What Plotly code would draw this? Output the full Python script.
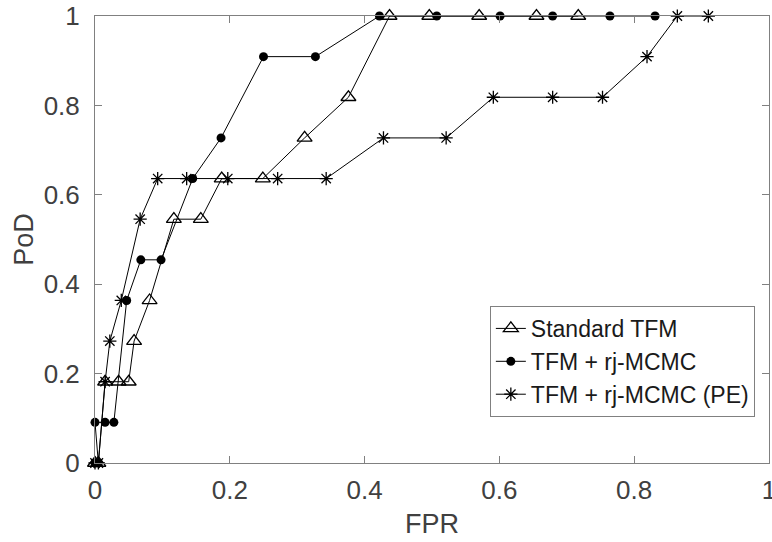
import plotly.graph_objects as go

# ---- data ----
std_fpr = [0, 0.005, 0.015, 0.035, 0.050, 0.058, 0.081, 0.117, 0.157, 0.188, 0.249,
           0.311, 0.376, 0.437, 0.496, 0.570, 0.655, 0.717]
std_pod = [0, 0, 2/11, 2/11, 2/11, 3/11, 4/11, 6/11, 6/11, 7/11, 7/11,
           8/11, 9/11, 1, 1, 1, 1, 1]

rj_fpr = [0, 0.005, 0, 0.015, 0.028, 0.047, 0.068, 0.098, 0.145, 0.187, 0.250,
          0.327, 0.422, 0.507, 0.601, 0.679, 0.764, 0.831]
rj_pod = [0, 0, 1/11, 1/11, 1/11, 4/11, 5/11, 5/11, 7/11, 8/11, 10/11,
          10/11, 1, 1, 1, 1, 1, 1]

pe_fpr = [0, 0.005, 0.015, 0.022, 0.039, 0.067, 0.093, 0.136, 0.197, 0.271, 0.343,
          0.428, 0.521, 0.591, 0.679, 0.753, 0.819, 0.864, 0.910]
pe_pod = [0, 0, 2/11, 3/11, 4/11, 6/11, 7/11, 7/11, 7/11, 7/11, 7/11,
          8/11, 8/11, 9/11, 9/11, 9/11, 10/11, 1, 1]

series_names = ["Standard TFM", "TFM + rj-MCMC", "TFM + rj-MCMC (PE)"]
x_ticks = [0, 0.2, 0.4, 0.6, 0.8, 1]
y_ticks = [0, 0.2, 0.4, 0.6, 0.8, 1]
tick_text = ["0", "0.2", "0.4", "0.6", "0.8", "1"]
x_title = "FPR"
y_title = "PoD"

FONT = "Liberation Sans, Arial, Helvetica, sans-serif"

fig = go.Figure()
fig.add_trace(go.Scatter(
    x=std_fpr, y=std_pod, name=series_names[0], mode="lines+markers",
    line=dict(color="black", width=1),
    marker=dict(symbol="triangle-up-open", size=13, color="black", line=dict(width=1.3, color="black")),
    cliponaxis=False))
fig.add_trace(go.Scatter(
    x=rj_fpr, y=rj_pod, name=series_names[1], mode="lines+markers",
    line=dict(color="black", width=1),
    marker=dict(symbol="circle", size=9, color="black", line=dict(width=0)),
    cliponaxis=False))
fig.add_trace(go.Scatter(
    x=pe_fpr, y=pe_pod, name=series_names[2], mode="lines+markers",
    line=dict(color="black", width=1),
    marker=dict(symbol="asterisk-open", size=11, color="black", line=dict(width=1.3, color="black")),
    cliponaxis=False))

axis_common = dict(
    showgrid=False, zeroline=False, showline=True, linecolor="#808080", linewidth=1,
    mirror="allticks", ticks="inside", ticklen=7, tickwidth=1, tickcolor="#808080",
    tickfont=dict(family=FONT, size=26, color="#404040"),
    automargin=False, ticklabeloverflow="allow",
)

fig.update_xaxes(range=[0, 1], tickvals=x_ticks, ticktext=tick_text,
                 ticklabelstandoff=4, **axis_common)
fig.update_yaxes(range=[0, 1], tickvals=y_ticks, ticktext=tick_text,
                 title=dict(text=y_title, font=dict(family=FONT, size=27, color="#404040"), standoff=2),
                 ticklabelstandoff=9, **axis_common)

# x-axis title placed as an annotation for exact vertical placement
fig.add_annotation(
    text=x_title, xref="paper", yref="paper", x=0.5, y=0, yshift=-61,
    xanchor="center", yanchor="middle", showarrow=False,
    font=dict(family=FONT, size=27, color="#404040"))

fig.update_layout(
    width=772, height=542,
    margin=dict(l=95, r=3, t=16, b=79),
    paper_bgcolor="white", plot_bgcolor="white",
    showlegend=True,
    legend=dict(
        x=0.979, y=0.103, xanchor="right", yanchor="bottom",
        bgcolor="white", bordercolor="#808080", borderwidth=1,
        font=dict(family=FONT, size=23, color="#1a1a1a"),
        tracegroupgap=0,
    ),
)

fig.write_html(
    "out.html",
    config={"displayModeBar": False},
    post_script="document.body.style.margin='0';document.body.style.padding='0';document.body.style.overflow='hidden';",
)
